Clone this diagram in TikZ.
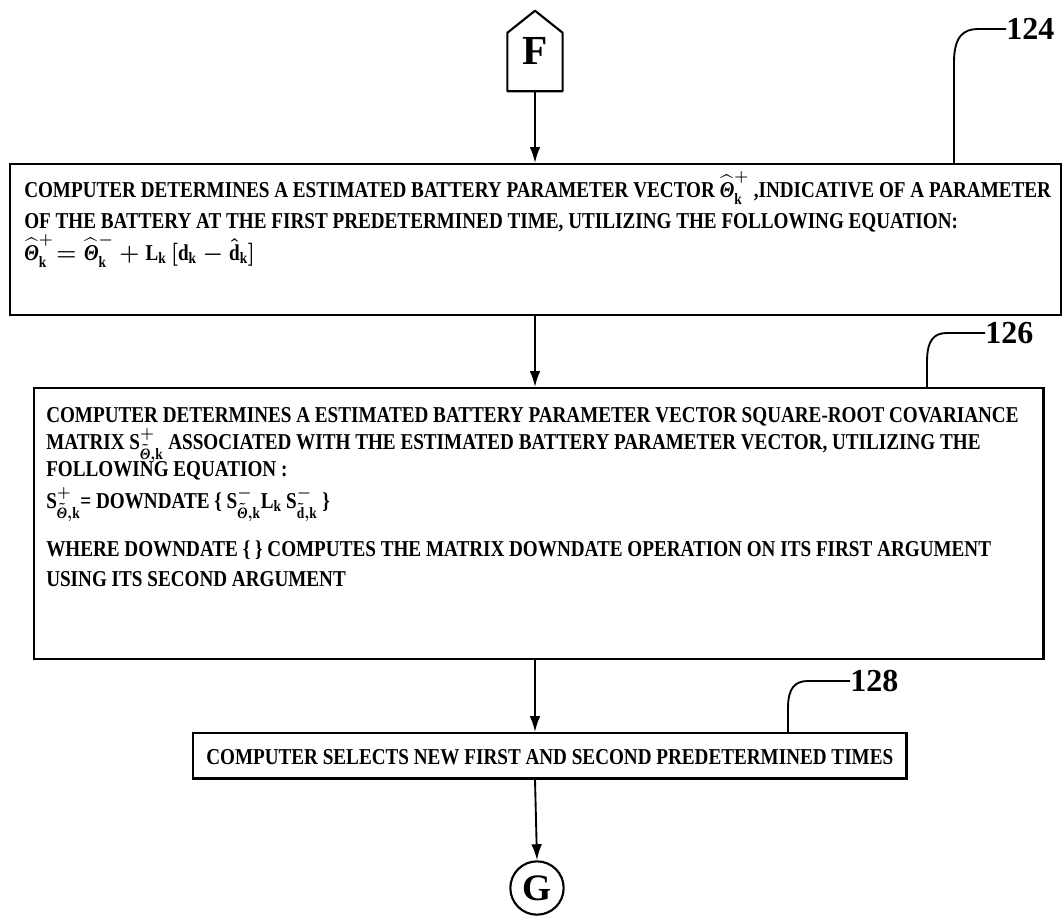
\documentclass[tikz,border=0pt]{standalone}
\usepackage{fontspec}
\usepackage{amsmath}
\setmainfont{Liberation Serif}[FakeStretch=0.845]
\newfontfamily\plainserif{Liberation Serif}
\usetikzlibrary{calc,arrows.meta}
\newcommand{\Th}{\text{\bfseries\itshape Θ}}
\newcommand{\bk}{\text{\bfseries k}}
\newcommand{\tb}[1]{\text{\bfseries #1}}
\tikzset{
  box/.style={draw, line width=1.7pt, inner sep=0pt, anchor=north west},
  txt/.style={anchor=base west, inner sep=0pt, font=\fontsize{17}{19}\selectfont\bfseries\boldmath},
  conn/.style={line width=1.4pt, -{Latex[length=12pt,width=8pt]}},
  lbl/.style={anchor=west, inner sep=0pt, font=\plainserif\fontsize{24}{26}\selectfont\bfseries},
  lead/.style={line width=1.4pt},
}
\begin{document}
\begin{tikzpicture}[x=0.75pt,y=-0.75pt]
\useasboundingbox (0,0) rectangle (1063,918);
% F connector
\node[inner sep=0pt, minimum width=41pt, minimum height=60pt, font=\plainserif\fontsize{31}{33}\selectfont\bfseries] (F) at (535,51) {F};
\draw[line width=1.6pt, line join=round] (F.south west) -- ([yshift=-16.5pt]F.north west) -- (F.north) -- ([yshift=-16.5pt]F.north east) -- (F.south east) -- cycle;
% box 124
\node[box, minimum width=788pt, minimum height=113pt] (b124) at (9,163) {};
\node[txt] (t1a) at (24,197) {COMPUTER DETERMINES A ESTIMATED BATTERY PARAMETER VECTOR $\widehat{\Th}^{+}_{\bk}$ ,INDICATIVE OF A PARAMETER};
\node[txt] (t1b) at (24,228) {OF THE BATTERY AT THE FIRST PREDETERMINED TIME, UTILIZING THE FOLLOWING EQUATION:};
\node[txt] (t1c) at (24,260) {$\widehat{\Th}^{+}_{\bk}\!=\widehat{\Th}^{-}_{\bk}+\tb{L}_{\bk}\,[\tb{d}_{\bk}-\hat{\tb{d}}_{\bk}]$};
% box 126
\node[box, minimum width=757pt, minimum height=203pt] (b126) at (33,387) {};
\node[txt] (t2a) at (46,422) {COMPUTER DETERMINES A ESTIMATED BATTERY PARAMETER VECTOR SQUARE-ROOT COVARIANCE};
\node[txt] (t2b) at (46,449) {MATRIX $\tb{S}^{+}_{\tilde{\Th},\bk}$ ASSOCIATED WITH THE ESTIMATED BATTERY PARAMETER VECTOR, UTILIZING THE};
\node[txt] (t2c) at (46,476) {FOLLOWING EQUATION :};
\node[txt] (t2d) at (46,508) {$\tb{S}^{+}_{\tilde{\Th},\bk}$= DOWNDATE \{ $\tb{S}^{-}_{\tilde{\Th},\bk}\tb{L}_{\bk}\,\tb{S}^{-}_{\tilde{\tb{d}},\bk}$ \}};
\node[txt] (t2e) at (46,556) {WHERE DOWNDATE \{ \} COMPUTES THE MATRIX DOWNDATE OPERATION ON ITS FIRST ARGUMENT};
\node[txt] (t2f) at (46,586) {USING ITS SECOND ARGUMENT};
% box 128
\node[box, minimum width=535pt, minimum height=34pt] (b128) at (192,732) {};
\node[txt, anchor=center] (t3) at ([yshift=-1pt]b128.center) {COMPUTER SELECTS NEW FIRST AND SECOND PREDETERMINED TIMES};
% G connector
\node[draw, circle, line width=1.6pt, inner sep=0pt, minimum size=40pt, font=\plainserif\fontsize{28}{30}\selectfont\bfseries] (G) at (537,888) {G};
% connectors
\draw[conn] (F.south) -- (F.south |- b124.north);
\draw[conn] (F.south |- b124.south) -- (F.south |- b126.north);
\draw[conn] (F.south |- b126.south) -- (F.south |- b128.north);
\draw[conn] (F.south |- b128.south) -- (G.north);
% reference labels
\node[lbl] (n124) at (1006,29) {124};
\coordinate (c124) at (954,163);
\draw[lead] (c124) -- (954,62) .. controls (954,36) and (964,29) .. (978,29) -- (n124.west);
\node[lbl] (n126) at (985,333) {126};
\coordinate (c126) at (927,387);
\draw[lead] (c126) -- (927,362) .. controls (927,340) and (934,333) .. (947,333) -- (n126.west);
\node[lbl] (n128) at (850,681) {128};
\coordinate (c128) at (788,732);
\draw[lead] (c128) -- (788,708) .. controls (788,688) and (795,681) .. (808,681) -- (n128.west);
\end{tikzpicture}
\end{document}
